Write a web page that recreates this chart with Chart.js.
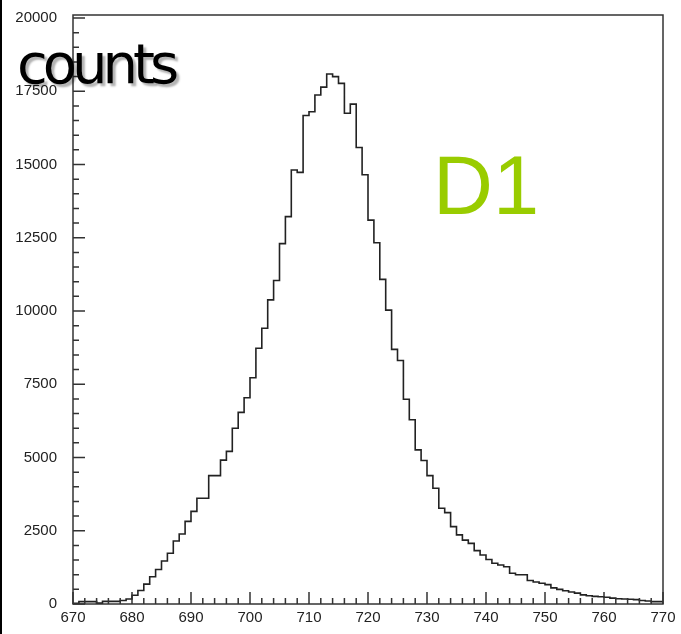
<!DOCTYPE html>
<html>
<head>
<meta charset="utf-8">
<title>D1 counts</title>
<script src="https://cdn.jsdelivr.net/npm/chart.js@4.4.1/dist/chart.umd.min.js"></script>
<style>
  html, body { margin: 0; padding: 0; background: #fff; }
  #grafico { display: block; }
</style>
</head>
<body>
<canvas id="grafico" width="681" height="634"></canvas>
<script>
/* datos del histograma: bins de 1 unidad desde 670 hasta 770 */
const inicioBins = 670;
const anchoBin = 1;

// cuentas por bin (670, 671, ... 769)
const cuentas = [
    20, 80, 80, 80, 30, 90, 90, 90, 120, 170,
    300, 460, 680, 930, 1180, 1470, 1730, 2150, 2390, 2820,
    3160, 3610, 3610, 4380, 4380, 4910, 5210, 6000, 6540, 7040,
    7720, 8730, 9410, 10380, 11040, 12300, 13220, 14810, 14730, 16670,
    16800, 17370, 17640, 18090, 18000, 17770, 16750, 17060, 15580, 14650,
    13100, 12330, 11080, 10030, 8690, 8310, 6990, 6290, 5260, 4900,
    4380, 3950, 3270, 3120, 2640, 2360, 2180, 2070, 1820, 1670,
    1520, 1390, 1330, 1270, 1050, 1000, 1000, 800, 750, 710,
    660, 550, 500, 450, 410, 370, 310, 280, 260, 250,
    230, 200, 180, 170, 160, 150, 120, 100, 80, 80
];

// etiquetas de los ejes
const ticksX = [670, 680, 690, 700, 710, 720, 730, 740, 750, 760, 770];
const ticksY = [0, 2500, 5000, 7500, 10000, 12500, 15000, 17500, 20000];

const textoEjeY = "counts";
const textoDetector = "D1";

// puntos en los bordes de cada bin (el ultimo cierra el histograma en 770)
function puntosHistograma() {
    const puntos = cuentas.map((valor, i) => {
        return { x: inicioBins + i * anchoBin, y: valor };
    });
    puntos.push({ x: inicioBins + cuentas.length * anchoBin, y: cuentas[cuentas.length - 1] });
    return puntos;
}

// marco, marcas hacia adentro y textos grandes
const marcasInternas = {
    id: 'marcasInternas',
    beforeDraw(chart) {
        const ctx = chart.ctx;
        ctx.save();
        ctx.fillStyle = '#000';
        ctx.fillRect(0, 0, 2, chart.height);
        ctx.restore();
    },
    afterDraw(chart) {
        const ctx = chart.ctx;
        const area = chart.chartArea;
        const ejeX = chart.scales.x;
        const ejeY = chart.scales.y;

        ctx.save();
        ctx.strokeStyle = '#333';
        ctx.lineWidth = 1.5;
        // el marco sobresale un poco por encima de 20000
        const arriba = area.top - 3;
        ctx.strokeRect(area.left, arriba, area.right - area.left, area.bottom - arriba);

        ctx.beginPath();
        ejeX.ticks.forEach((t) => {
            if (t.value % 2 !== 0) return;
            const px = ejeX.getPixelForValue(t.value);
            const largo = ticksX.includes(t.value) ? 12 : 6;
            ctx.moveTo(px, area.bottom);
            ctx.lineTo(px, area.bottom - largo);
        });
        ejeY.ticks.forEach((t) => {
            if (t.value % 500 !== 0) return;
            const py = ejeY.getPixelForValue(t.value);
            const largo = ticksY.includes(t.value) ? 12 : 6;
            ctx.moveTo(area.left, py);
            ctx.lineTo(area.left + largo, py);
        });
        ctx.stroke();

        // texto "counts" con sombra
        ctx.font = '56px "DejaVu Sans"';
        ctx.letterSpacing = '-5px';
        ctx.textBaseline = 'alphabetic';
        ctx.textAlign = 'left';
        ctx.shadowColor = 'rgba(0,0,0,0.3)';
        ctx.shadowOffsetX = 3;
        ctx.shadowOffsetY = 3;
        ctx.shadowBlur = 2;
        ctx.fillStyle = '#000';
        ctx.fillText(textoEjeY, 17, 83);

        // texto "D1"
        ctx.shadowColor = 'transparent';
        ctx.letterSpacing = '0px';
        ctx.font = '83px "Liberation Sans"';
        ctx.fillStyle = '#99cc00';
        ctx.fillText(textoDetector, 433, 214);
        ctx.restore();
    }
};

function cargarGrafico() {
    const chartDOM = document.getElementById('grafico');
    const fuente = { family: '"Liberation Sans"', size: 15 };

    const config = {
        type: 'line',
        data: {
            datasets: [{
                data: puntosHistograma(),
                stepped: true,
                borderColor: '#222',
                borderWidth: 1.6,
                pointRadius: 0,
                fill: false
            }]
        },
        options: {
            responsive: false,
            animation: false,
            devicePixelRatio: 1,
            layout: { padding: { left: 0, top: 18, right: 18, bottom: 0 } },
            plugins: {
                legend: { display: false },
                tooltip: { enabled: false }
            },
            scales: {
                x: {
                    type: 'linear',
                    min: 670,
                    max: 770,
                    grid: { display: false, drawTicks: false },
                    border: { display: false },
                    ticks: {
                        stepSize: 2,
                        maxTicksLimit: 1000,
                        includeBounds: false,
                        autoSkip: false,
                        maxRotation: 0,
                        padding: 5,
                        color: '#222',
                        font: fuente,
                        callback: (v) => ticksX.includes(v) ? String(v) : ''
                    },
                    afterFit: (s) => { s.height = 30; }
                },
                y: {
                    min: 0,
                    max: 20000,
                    grid: { display: false, drawTicks: false },
                    border: { display: false },
                    ticks: {
                        stepSize: 500,
                        maxTicksLimit: 1000,
                        includeBounds: false,
                        autoSkip: false,
                        padding: 16,
                        color: '#222',
                        font: fuente,
                        callback: (v) => ticksY.includes(v) ? String(v) : ''
                    },
                    afterFit: (s) => {
                        s.width = 73;
                        // sin relleno extra arriba y abajo: el area la fija layout.padding
                        s.paddingTop = 0;
                        s.paddingBottom = 0;
                    }
                }
            }
        },
        plugins: [marcasInternas]
    };

    new Chart(chartDOM, config);
}

cargarGrafico();
</script>
</body>
</html>
